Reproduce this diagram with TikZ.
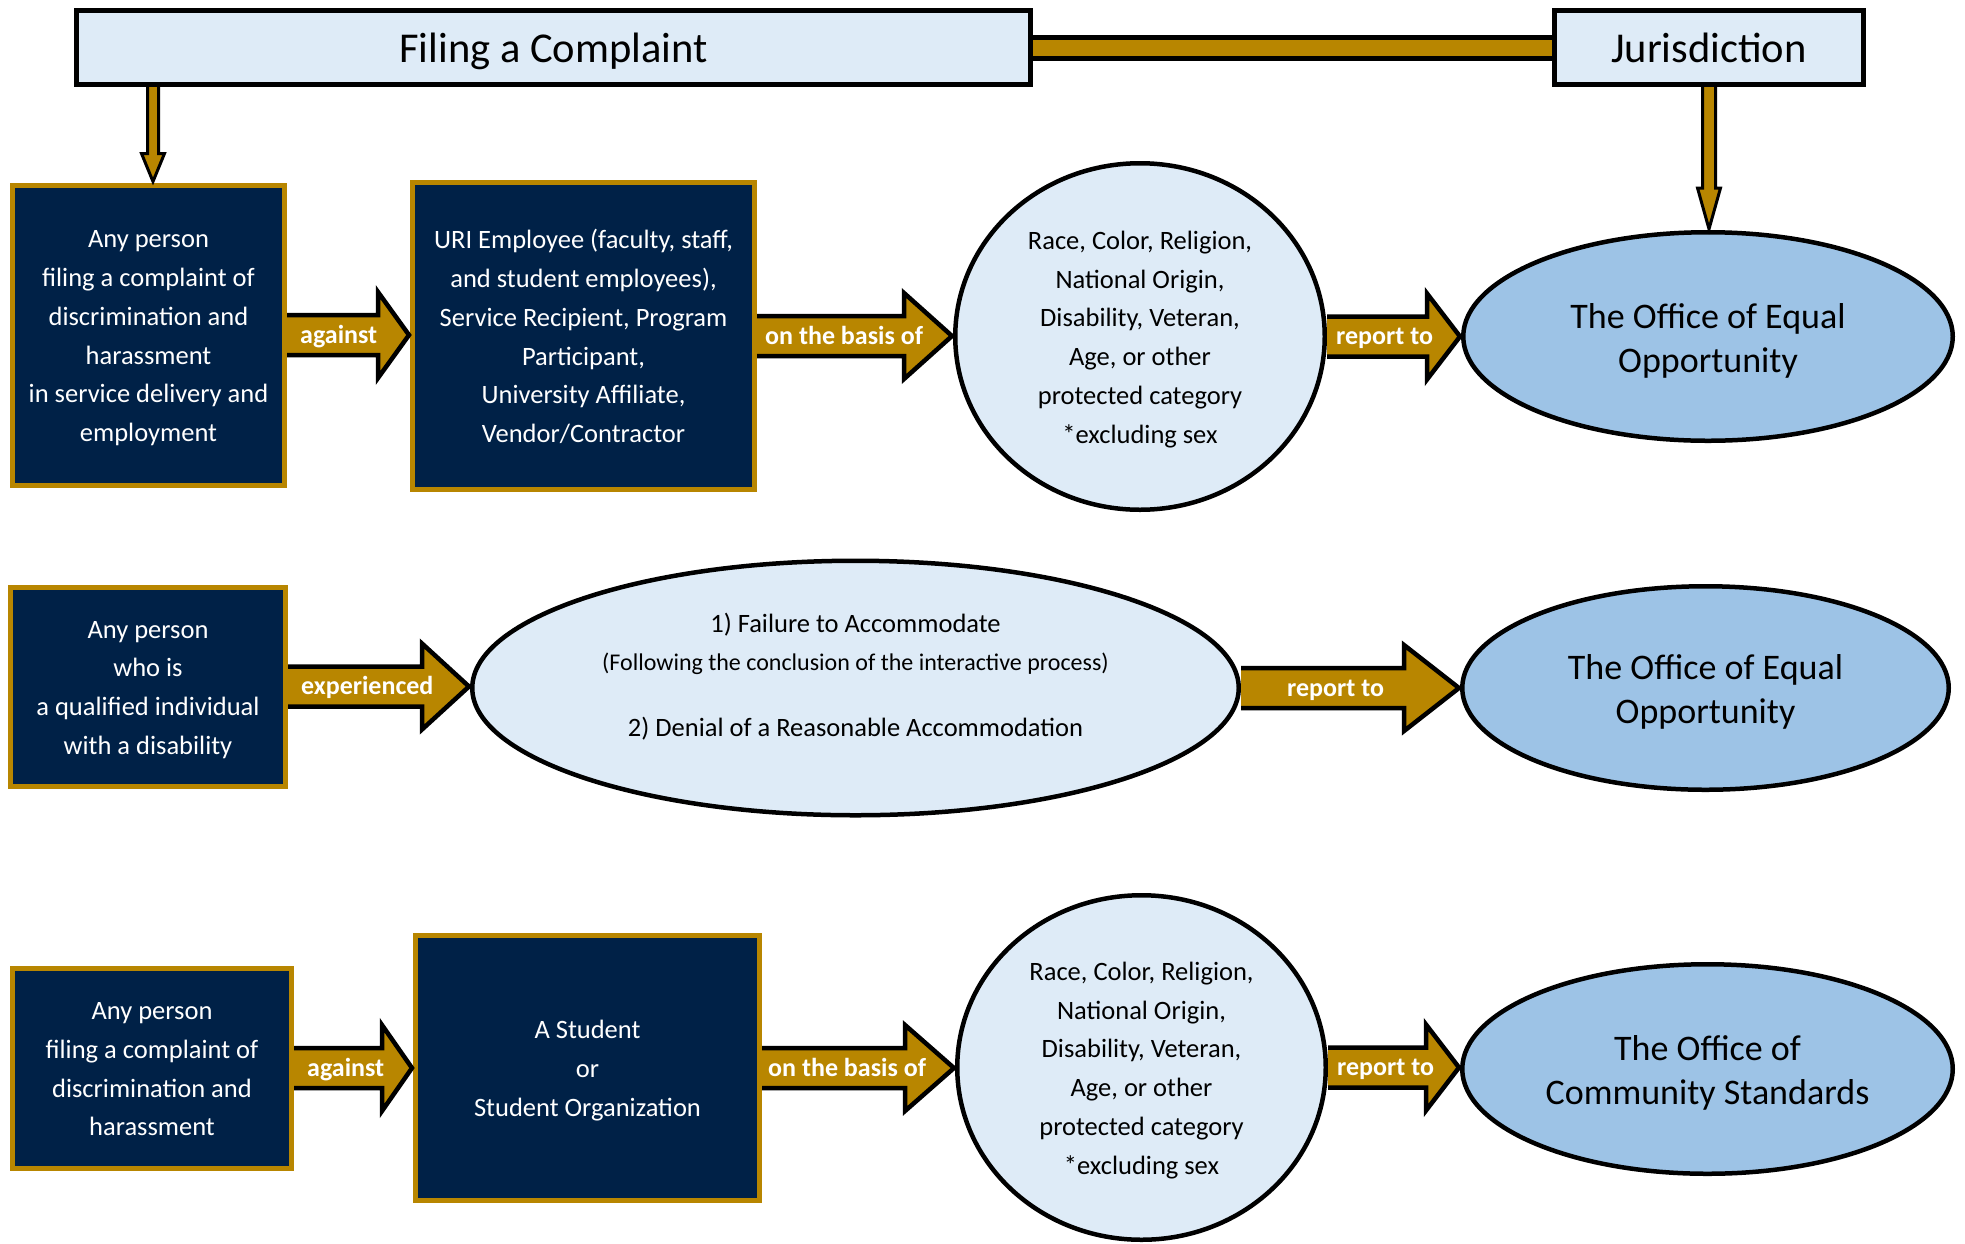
\documentclass[tikz,border=0pt]{standalone}
\usepackage{fontspec}
\setmainfont{Carlito}
\usetikzlibrary{shapes.geometric,calc}
\definecolor{uriNavy}{RGB}{0,33,71}
\definecolor{uriGold}{RGB}{184,134,0}
\definecolor{paleBlue}{RGB}{222,235,247}
\definecolor{midBlue}{RGB}{157,195,230}
% struts that fix the vertical placement of multi-line texts
\newcommand\tsa{\rule{0pt}{25.5pt}}
\newcommand\bsa{\rule[-6pt]{0pt}{6pt}}
\newcommand\tsb{\rule{0pt}{35pt}}
\newcommand\bsb{\rule[-7.5pt]{0pt}{7.5pt}}
\tikzset{
 navybox/.style={rectangle, fill=uriNavy, draw=uriGold, line width=5pt, text=white, align=center, inner sep=0pt, font=\fontsize{26.5}{38.8}\selectfont},
 headbox/.style={rectangle, fill=paleBlue, draw=black, line width=5pt, inner sep=0pt, text height=33pt, text depth=4pt, font=\fontsize{42.5}{50}\selectfont},
 palecirc/.style={ellipse, fill=paleBlue, draw=black, line width=4.5pt, inner sep=0pt, align=center, font=\fontsize{26.5}{38.8}\selectfont},
 office/.style={ellipse, fill=midBlue, draw=black, line width=4.5pt, inner sep=0pt, align=center, font=\fontsize{36}{44}\selectfont},
 barrowline/.style={fill=uriGold, draw=black, line width=4.5pt},
 darrowline/.style={fill=uriGold, draw=black, line width=3pt},
 arrowlabel/.style={anchor=west, text=white, inner sep=0pt, text height=19pt, text depth=3pt, font=\fontsize{26}{30}\selectfont\bfseries},
 bartop/.style={draw=black, line width=5pt},
}
% block arrow: start, end, head length, label name, label offset, label text
\newcommand\barrow[6]{%
 \filldraw[barrowline] let \p1=(#1), \p2=(#2) in
  (\x1,\y1+20pt) -- (\x2-#3pt,\y1+20pt) -- (\x2-#3pt,\y1+43pt) -- (\x2-1pt,\y1)
  -- (\x2-#3pt,\y1-43pt) -- (\x2-#3pt,\y1-20pt) -- (\x1,\y1-20pt);
 \node[arrowlabel] (#4) at ($(#1)+(#5,0)$) {#6};
}
% down arrow: start, end, head length, shaft half width
\newcommand\darrow[4]{%
 \filldraw[darrowline] let \p1=(#1), \p2=(#2) in
  (\x1-#4pt,\y1) -- (\x1-#4pt,\y2+#3pt) -- (\x1-11.5pt,\y2+#3pt) -- (\x1,\y2+1pt)
  -- (\x1+11.5pt,\y2+#3pt) -- (\x1+#4pt,\y2+#3pt) -- (\x1+#4pt,\y1);
}
\begin{document}
\begin{tikzpicture}[x=1pt,y=-1pt]
\useasboundingbox (0,0) rectangle (1965,1243);

% header
\node[headbox, minimum width=954pt, minimum height=74pt] (filing) at (553.5,47.5) {Filing a Complaint};
\node[headbox, minimum width=309pt, minimum height=74pt] (jur) at (1709,47.5) {Jurisdiction};

% row 1
\node[navybox, minimum width=272pt, minimum height=300pt] (b1) at (148.5,335)
 {\tsa Any person\\filing a complaint of\\discrimination and\\harassment\\in service delivery and\\employment\bsa};
\node[navybox, minimum width=342pt, minimum height=307pt] (b2) at (583.5,336)
 {\tsa URI Employee (faculty, staff,\\and student employees),\\Service Recipient, Program\\Participant,\\University Affiliate,\\Vendor/Contractor\bsa};
\node[palecirc, minimum width=369.5pt, minimum height=346.5pt] (c1) at (1140,336.5)
 {\tsa Race, Color, Religion,\\National Origin,\\Disability, Veteran,\\Age, or other\\protected category\\*excluding sex\bsa};
\node[office, minimum width=489.5pt, minimum height=208.5pt] (o1) at (1708,336.5)
 {\tsb The Office of Equal\\Opportunity\bsb};

% row 2
\node[navybox, minimum width=275pt, minimum height=199pt] (b3) at (148,686.5)
 {\tsa Any person\\who is\\a qualified individual\\with a disability\bsa};
\node[palecirc, minimum width=766.5pt, minimum height=254.5pt] (e2) at (855.5,688) {};
\node[align=center, inner sep=0pt, font=\fontsize{26.5}{38}\selectfont] (e2txt) at ($(e2)+(0,-11)$)
 {1) Failure to Accommodate\\{\fontsize{24}{38}\selectfont (Following the conclusion of the interactive process)}\\[28pt]2) Denial of a Reasonable Accommodation};
\node[office, minimum width=486.5pt, minimum height=203.5pt] (o2) at (1705.5,688)
 {\tsb The Office of Equal\\Opportunity\bsb};

% row 3
\node[navybox, minimum width=279pt, minimum height=200pt] (b4) at (152,1068)
 {\tsa Any person\\filing a complaint of\\discrimination and\\harassment\bsa};
\node[navybox, minimum width=344pt, minimum height=265pt] (b5) at (587.5,1068)
 {\tsa A Student\\or\\Student Organization\bsa};
\node[palecirc, minimum width=368.5pt, minimum height=344.5pt] (c3) at (1141.5,1067.5)
 {\tsa Race, Color, Religion,\\National Origin,\\Disability, Veteran,\\Age, or other\\protected category\\*excluding sex\bsa};
\node[office, minimum width=490.5pt, minimum height=209.5pt] (o3) at (1707.5,1069)
 {\tsb The Office of\\Community Standards\bsb};

% header connector bar
\fill[uriGold] let \p1=(filing.east), \p2=(jur.west) in (\x1,\y1+10.5pt) rectangle (\x2,\y1-10.5pt);
\draw[bartop] let \p1=(filing.east), \p2=(jur.west) in
 (\x1,\y1+10.5pt) -- (\x2,\y1+10.5pt) (\x1,\y1-10.5pt) -- (\x2,\y1-10.5pt);

% down arrows
\coordinate (dx1) at (153,0);
\darrow{filing.south -| dx1}{b1.north -| dx1}{29}{5.5}
\darrow{jur.south}{o1.north -| jur.south}{42}{6.5}

% block arrows
\barrow{b1.east}{b2.west}{32}{l1}{13}{against}
\barrow{b2.east}{c1.west}{49}{l2}{8}{on the basis of}
\barrow{c1.east}{o1.west}{34}{l3}{9}{report to}

\barrow{b3.east}{e2.west}{48}{l4}{13}{experienced}
\barrow{e2.east}{o2.west}{56}{l5}{46}{report to}

\barrow{b4.east}{b5.west}{31}{l6}{13}{against}
\barrow{b5.east}{c3.west}{50}{l7}{6}{on the basis of}
\barrow{c3.east}{o3.west}{34}{l8}{9}{report to}
\end{tikzpicture}
\end{document}
